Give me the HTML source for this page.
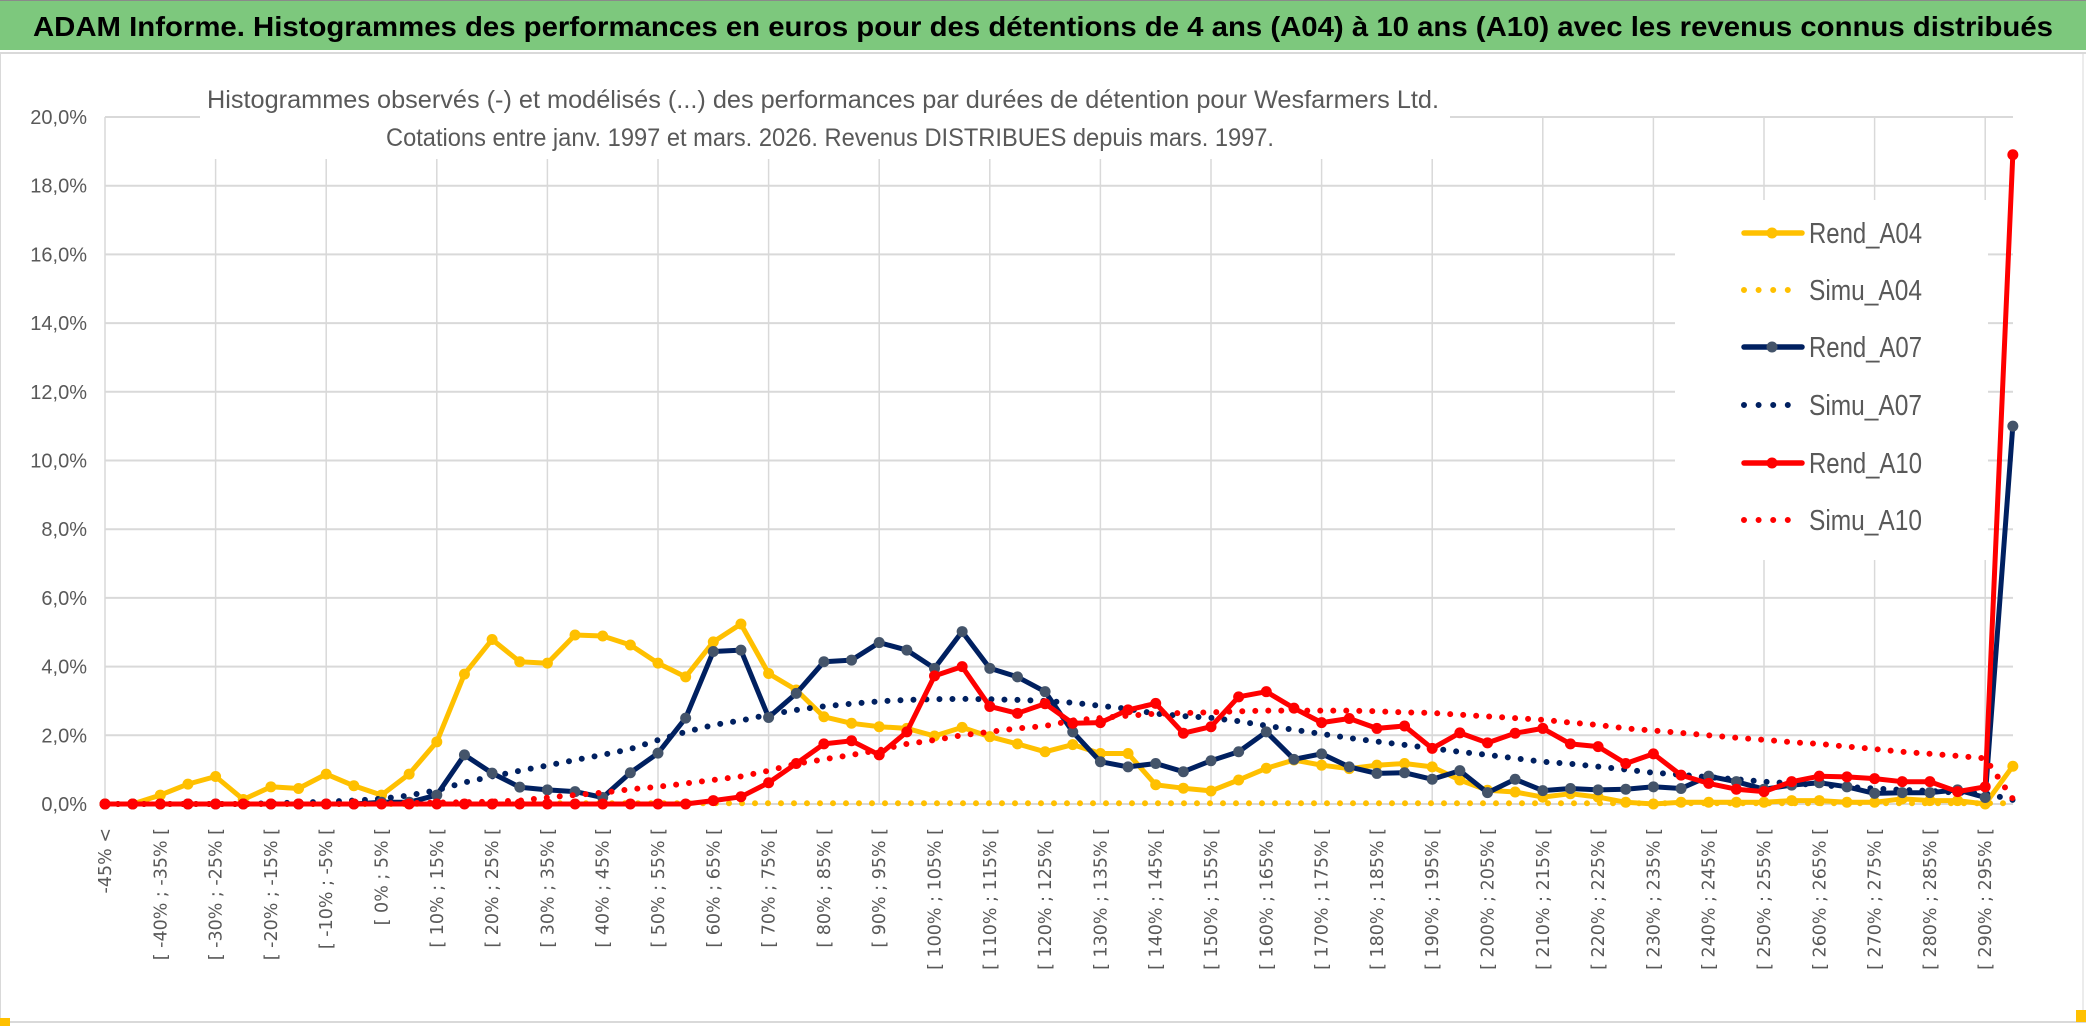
<!DOCTYPE html>
<html><head><meta charset="utf-8">
<style>
html,body{margin:0;padding:0;background:#fff;}
svg{display:block;}
text{font-family:"Liberation Sans Narrow","Liberation Sans",sans-serif;}
</style></head>
<body>
<svg id="chart" width="2086" height="1031" viewBox="0 0 2086 1031" xmlns="http://www.w3.org/2000/svg">
  <rect x="0" y="0" width="2086" height="1031" fill="#fff"/>
  <rect x="0" y="0" width="2086" height="50" fill="#7DC87D"/>
  <line x1="0" y1="0.5" x2="2086" y2="0.5" stroke="#8a8a8a" stroke-width="1"/>
  <line x1="0" y1="53" x2="2086" y2="53" stroke="#d9d9d9" stroke-width="2"/>
  <text x="33" y="36" font-size="28" font-weight="bold" fill="#000" textLength="2020" lengthAdjust="spacingAndGlyphs">ADAM Informe. Histogrammes des performances en euros pour des détentions de 4 ans (A04) à 10 ans (A10) avec les revenus connus distribués</text>
  <line x1="0.5" y1="53" x2="0.5" y2="1022" stroke="#d9d9d9" stroke-width="1"/>
  <line x1="2083" y1="53" x2="2083" y2="1022" stroke="#d9d9d9" stroke-width="1"/>
  <line x1="0" y1="1022" x2="2086" y2="1022" stroke="#d9d9d9" stroke-width="2"/>
  <g id="grid"></g>
  <g id="yaxis"></g>
  <g id="xaxis"></g>
  <rect x="200" y="72" width="1250" height="87" fill="#fff"/>
  <text x="823" y="108" font-size="25" fill="#595959" text-anchor="middle" textLength="1232" lengthAdjust="spacingAndGlyphs">Histogrammes observés (-) et modélisés (...) des performances par durées de détention pour Wesfarmers Ltd.</text>
  <text x="830" y="146" font-size="25" fill="#595959" text-anchor="middle" textLength="888" lengthAdjust="spacingAndGlyphs">Cotations entre janv. 1997 et mars. 2026. Revenus DISTRIBUES depuis mars. 1997.</text>
  <rect x="1675" y="200" width="313" height="360" fill="#fff"/>
  <g id="series"></g>
  <g id="legend"></g>
  <rect x="0" y="1018" width="10" height="8" fill="#FFC000"/>
  <rect x="2076" y="1010" width="10" height="12" fill="#FFC000"/>
</svg>
<script>
var categories = (function(){var a=["-45% <"];for(var i=1;i<70;i++){var lo=-45+5*(i-1);a.push("[ "+lo+"% ; "+(lo+5)+"% [");}return a;})();
var yTicks = [0,2,4,6,8,10,12,14,16,18,20];
var yTickLabels = ["0,0%","2,0%","4,0%","6,0%","8,0%","10,0%","12,0%","14,0%","16,0%","18,0%","20,0%"];
var rendA04 = [0,0,0.26,0.58,0.8,0.13,0.5,0.45,0.87,0.53,0.26,0.87,1.81,3.78,4.79,4.14,4.1,4.92,4.89,4.63,4.1,3.7,4.72,5.24,3.8,3.32,2.54,2.35,2.25,2.2,1.98,2.23,1.96,1.75,1.52,1.73,1.47,1.47,0.56,0.46,0.38,0.7,1.04,1.28,1.13,1.03,1.13,1.18,1.08,0.7,0.4,0.35,0.2,0.3,0.2,0.05,0,0.05,0.05,0.05,0.05,0.1,0.1,0.05,0.05,0.15,0.1,0.1,0,1.1];
var simuA04 = [0,0,0,0,0,0,0,0,0,0,0,0,0.01,0.01,0.02,0.02,0.02,0.02,0.02,0.02,0.02,0.02,0.02,0.02,0.02,0.02,0.02,0.02,0.02,0.02,0.02,0.02,0.02,0.02,0.02,0.02,0.02,0.02,0.02,0.02,0.02,0.02,0.02,0.02,0.02,0.02,0.02,0.02,0.02,0.02,0.02,0.02,0.02,0.02,0.02,0.02,0.02,0.02,0.02,0.02,0.02,0.02,0.02,0.02,0.02,0.02,0.02,0.02,0.02,0.02];
var rendA07 = [0,0,0,0,0,0,0,0,0,0,0.05,0.05,0.26,1.43,0.9,0.49,0.41,0.36,0.19,0.91,1.48,2.5,4.44,4.48,2.52,3.22,4.14,4.19,4.7,4.48,3.95,5.02,3.95,3.7,3.27,2.1,1.23,1.08,1.18,0.94,1.26,1.52,2.1,1.3,1.46,1.08,0.89,0.91,0.72,0.97,0.33,0.72,0.39,0.45,0.41,0.43,0.5,0.45,0.81,0.65,0.43,0.55,0.62,0.5,0.31,0.33,0.33,0.41,0.19,11.0];
var simuA07 = [0,0,0,0,0,0,0.02,0.04,0.07,0.1,0.15,0.25,0.4,0.63,0.8,0.97,1.12,1.28,1.43,1.6,1.86,2.1,2.3,2.43,2.6,2.74,2.84,2.92,2.99,3.03,3.05,3.06,3.05,3.03,3.0,2.95,2.86,2.77,2.63,2.56,2.51,2.41,2.28,2.16,2.04,1.92,1.82,1.72,1.62,1.52,1.43,1.33,1.23,1.17,1.09,1.0,0.91,0.85,0.78,0.72,0.65,0.6,0.55,0.5,0.45,0.41,0.38,0.33,0.31,0.12];
var rendA10 = [0,0,0,0,0,0,0,0,0,0,0,0,0,0,0,0,0,0,0,0,0,0,0.1,0.21,0.62,1.18,1.75,1.84,1.43,2.1,3.73,4.0,2.84,2.64,2.92,2.35,2.37,2.74,2.93,2.06,2.25,3.12,3.27,2.79,2.37,2.49,2.2,2.27,1.62,2.07,1.78,2.06,2.2,1.75,1.67,1.18,1.46,0.84,0.6,0.43,0.36,0.65,0.81,0.79,0.74,0.65,0.65,0.36,0.5,18.9];
var simuA10 = [0,0,0,0,0,0,0,0,0,0,0.02,0.03,0.04,0.05,0.07,0.1,0.19,0.26,0.33,0.43,0.5,0.6,0.7,0.8,0.97,1.17,1.3,1.43,1.57,1.75,1.86,2.0,2.1,2.2,2.27,2.43,2.5,2.57,2.63,2.65,2.67,2.7,2.72,2.72,2.72,2.72,2.7,2.67,2.65,2.6,2.55,2.5,2.45,2.37,2.3,2.2,2.14,2.07,2.0,1.93,1.87,1.8,1.75,1.67,1.6,1.52,1.46,1.4,1.33,0.15];

var NS="http://www.w3.org/2000/svg";
var X0=105, STEP=27.65, Y0=804, PXPCT=34.35, XR=2013;
function xPos(i){return X0+i*STEP;}
function yPos(v){return Y0-v*PXPCT;}
function mk(tag,attrs,parent){var e=document.createElementNS(NS,tag);for(var k in attrs)e.setAttribute(k,attrs[k]);parent.appendChild(e);return e;}

var grid=document.getElementById('grid');
for(var t=0;t<yTicks.length;t++){
  var gl=mk('line',{x1:X0,x2:XR,y1:yPos(yTicks[t]),y2:yPos(yTicks[t]),stroke:'#d9d9d9','stroke-width':2},grid);
  
  
}
for(var i=0;i<categories.length;i+=4){
  var vl=mk('line',{x1:xPos(i),x2:xPos(i),y1:yPos(20),y2:yPos(0),stroke:'#d9d9d9','stroke-width':1.5},grid);
  
  
}
var yax=document.getElementById('yaxis');
for(var t=0;t<yTicks.length;t++){
  var tl=mk('text',{x:87,y:yPos(yTicks[t])+7,'font-size':20,fill:'#595959','text-anchor':'end'},yax);
  tl.textContent=yTickLabels[t];
  
  
}
var xax=document.getElementById('xaxis');
for(var i=0;i<categories.length;i+=2){
  var x=xPos(i)+6;
  var xl=mk('text',{x:0,y:0,'font-size':17.5,fill:'#595959','text-anchor':'end',transform:'translate('+x+',828) rotate(-90)',style:'font-family:"DejaVu Sans",sans-serif'},xax);
  xl.textContent=categories[i];
  
  
}

var seriesG=document.getElementById('series');
function pts(arr){var p=[];for(var i=0;i<arr.length;i++)p.push(xPos(i).toFixed(1)+','+yPos(arr[i]).toFixed(1));return p.join(' ');}
function dotted(arr,color,name){
  var l=mk('polyline',{points:pts(arr),fill:'none',stroke:color,'stroke-width':6,'stroke-linecap':'round','stroke-dasharray':'0 13'},seriesG);
  
  
}
function solid(arr,color,mcolor,name){
  var g=mk('g',{},seriesG);
  
  
  mk('polyline',{points:pts(arr),fill:'none',stroke:color,'stroke-width':5,'stroke-linejoin':'round'},g);
  for(var i=0;i<arr.length;i++){
    var c=mk('circle',{cx:xPos(i),cy:yPos(arr[i]),r:5.5,fill:mcolor},g);
    
    
  }
}
dotted(simuA04,'#FFC000','simu-a04-line');
solid(rendA04,'#FFC000','#FFC000','rend-a04-line');
dotted(simuA07,'#002060','simu-a07-line');
solid(rendA07,'#002060','#44546A','rend-a07-line');
dotted(simuA10,'#FF0000','simu-a10-line');
solid(rendA10,'#FF0000','#FF0000','rend-a10-line');

var legendItems=[['Rend_A04','#FFC000','#FFC000',false],['Simu_A04','#FFC000','',true],['Rend_A07','#002060','#44546A',false],['Simu_A07','#002060','',true],['Rend_A10','#FF0000','#FF0000',false],['Simu_A10','#FF0000','',true]];
var legendY=[233,290,347,405,463,520];
var lg=document.getElementById('legend');
for(var k=0;k<legendItems.length;k++){
  var it=legendItems[k], y=legendY[k];
  var g=mk('g',{},lg);
  
  
  if(it[3]){
    mk('line',{x1:1744,x2:1800,y1:y,y2:y,stroke:it[1],'stroke-width':6,'stroke-linecap':'round','stroke-dasharray':'0 14.6'},g);
  } else {
    mk('line',{x1:1744,x2:1802,y1:y,y2:y,stroke:it[1],'stroke-width':5.5,'stroke-linecap':'round'},g);
    mk('circle',{cx:1772,cy:y,r:5.5,fill:it[2]},g);
  }
  var tx=mk('text',{x:1809,y:y+10,'font-size':29,fill:'#595959',textLength:113,lengthAdjust:'spacingAndGlyphs'},g);
  tx.textContent=it[0];
}
</script>
</body></html>
